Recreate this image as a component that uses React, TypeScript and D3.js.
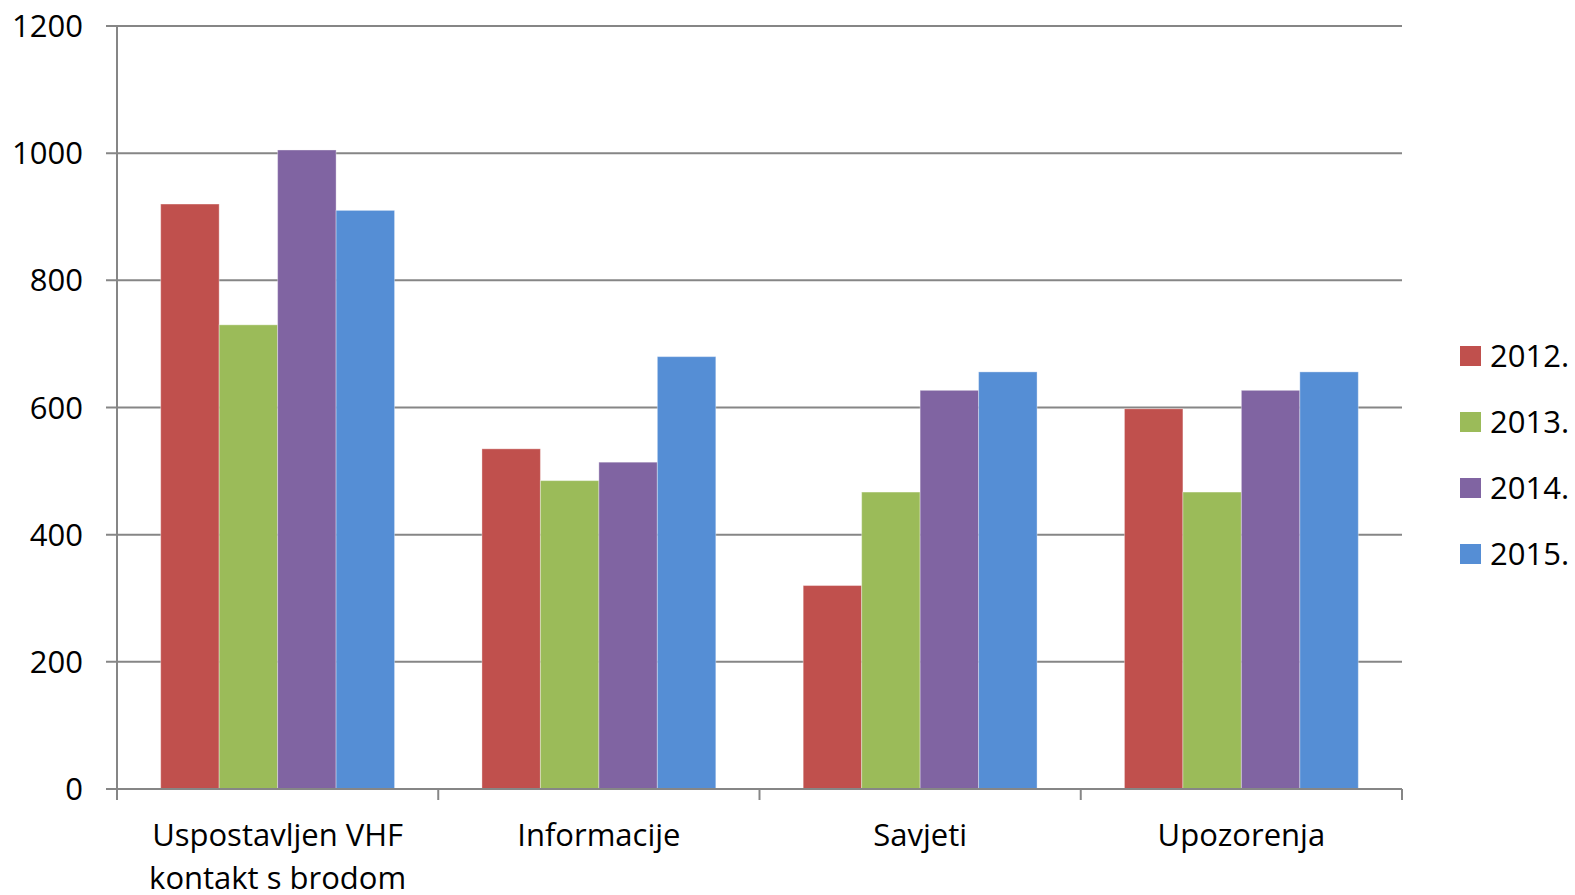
import React from 'react';
import * as d3 from 'd3';

const categories = [
  ['Uspostavljen VHF', 'kontakt s brodom'],
  ['Informacije'],
  ['Savjeti'],
  ['Upozorenja'],
];
const years = ['2012.', '2013.', '2014.', '2015.'];
const values2012 = [920, 535, 320, 598];
const values2013 = [730, 485, 467, 467];
const values2014 = [1005, 514, 627, 627];
const values2015 = [910, 680, 656, 656];
const yTicks = [0, 200, 400, 600, 800, 1000, 1200];
const colors = ['#C0504D', '#9BBB59', '#8064A2', '#558ED5'];

const series = [values2012, values2013, values2014, values2015];

const W = 1575;
const H = 895;
const margin = { left: 117, right: 173, top: 26, bottom: 106 };
const FONT = '"Open Sans", sans-serif';

const App: React.FC = () => {
  const x0 = d3
    .scaleBand<number>()
    .domain(categories.map((_, i) => i))
    .range([margin.left, W - margin.right]);
  const groupW = x0.bandwidth() * 0.728;
  const x1 = d3
    .scaleBand<number>()
    .domain(years.map((_, i) => i))
    .range([0, groupW]);
  const y = d3.scaleLinear().domain([0, 1200]).range([H - margin.bottom, margin.top]);

  const axisColor = '#868686';
  const xLeft = margin.left;
  const xRight = W - margin.right;
  const bottom = y(0);

  return (
    <div style={{ position: 'absolute', left: 0, top: 0 }}>
      <svg width={W} height={H} style={{ display: 'block', background: '#fff' }}>
        {/* gridlines + y labels */}
        {yTicks.map(t => (
          <g key={t}>
            <line x1={xLeft - 11} x2={xRight} y1={y(t)} y2={y(t)} stroke={axisColor} strokeWidth={2} />
            <text x={83} y={y(t) + 11} textAnchor="end" fontFamily={FONT} fontSize={31} fill="#000">
              {t}
            </text>
          </g>
        ))}
        {/* bars */}
        {categories.map((_, ci) => {
          const gx = (x0(ci) || 0) + (x0.bandwidth() - groupW) / 2;
          return (
            <g key={ci} transform={`translate(${gx},0)`}>
              {series.map((s, si) => (
                <rect
                  key={si}
                  x={x1(si) || 0}
                  y={y(s[ci])}
                  width={x1.bandwidth()}
                  height={bottom - y(s[ci])}
                  fill={colors[si]}
                  stroke="#ffffff"
                  strokeOpacity={0.35}
                  strokeWidth={1}
                />
              ))}
            </g>
          );
        })}
        {/* axes */}
        <line x1={xLeft} x2={xLeft} y1={margin.top} y2={bottom + 11} stroke={axisColor} strokeWidth={2} />
        <line x1={xLeft - 11} x2={xRight} y1={bottom} y2={bottom} stroke={axisColor} strokeWidth={2} />
        {categories.map((_, ci) => (
          <line
            key={ci}
            x1={(x0(ci) || 0) + x0.bandwidth()}
            x2={(x0(ci) || 0) + x0.bandwidth()}
            y1={bottom}
            y2={bottom + 11}
            stroke={axisColor}
            strokeWidth={2}
          />
        ))}
        {/* category labels */}
        {categories.map((lines, ci) => (
          <text
            key={ci}
            x={(x0(ci) || 0) + x0.bandwidth() / 2}
            y={846}
            textAnchor="middle"
            fontFamily={FONT}
            fontSize={31}
            fill="#000"
          >
            {lines.map((l, li) => (
              <tspan key={li} x={(x0(ci) || 0) + x0.bandwidth() / 2} dy={li === 0 ? 0 : 43}>
                {l}
              </tspan>
            ))}
          </text>
        ))}
        {/* legend */}
        {years.map((yr, i) => {
          const cy = 356 + i * 66;
          return (
            <g key={yr}>
              <rect x={1460} y={cy - 10} width={21} height={20} fill={colors[i]} />
              <text x={1490} y={cy + 11} fontFamily={FONT} fontSize={31} fill="#000">
                {yr}
              </text>
            </g>
          );
        })}
      </svg>
    </div>
  );
};

export default App;
